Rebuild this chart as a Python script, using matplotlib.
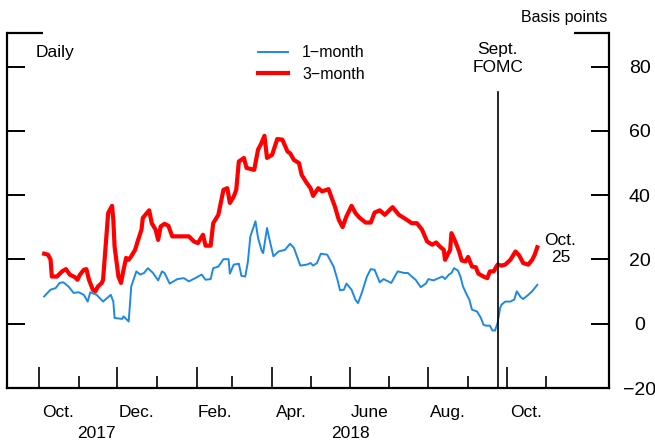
import matplotlib.pyplot as plt
import matplotlib.transforms as mtransforms
import numpy as np
import pandas as pd

plt.rcParams['font.family'] = ['Liberation Sans', 'DejaVu Sans']

start = pd.Timestamp('2017-10-01')

# days after Oct. 1, 2017 and basis points
days_3m = [4, 7, 9, 10, 14, 18, 21, 24, 28, 30, 32, 35, 37, 39, 42, 44, 46, 49, 50,
           52, 54, 57, 58, 59, 62, 64, 66, 68, 70, 72, 75, 77, 80, 81, 83, 86, 88,
           91, 93, 95, 98, 101, 104, 110, 117, 121, 124, 128, 130, 134, 136, 140,
           144, 147, 149, 152, 154, 156, 160, 162, 168, 171, 173, 176, 178, 182,
           186, 190, 194, 196, 199, 203, 205, 209, 212, 214, 218, 221, 226, 229,
           231, 234, 237, 240, 244, 247, 250, 255, 259, 262, 266, 270, 276, 281,
           283, 287, 291, 295, 299, 303, 307, 310, 313, 316, 317, 319, 321, 322,
           325, 328, 330, 333, 335, 338, 341, 343, 347, 350, 352, 355, 358, 361,
           364, 368, 372, 375, 378, 382, 385, 387, 389]
rate_3m = [21.8, 21.5, 20.0, 14.7, 14.7, 16.3, 17.0, 15.3, 14.5, 13.7, 15.3, 16.8,
           17.0, 13.7, 10.6, 10.1, 11.6, 12.7, 13.7, 24.0, 34.5, 36.7, 32.4, 24.0,
           14.7, 12.7, 16.8, 20.5, 19.9, 21.0, 23.0, 25.6, 29.3, 32.9, 33.9, 35.3,
           31.3, 29.3, 26.1, 30.3, 31.1, 30.5, 27.2, 27.2, 27.2, 25.6, 25.1, 27.7,
           24.3, 24.3, 31.3, 33.9, 41.7, 42.2, 37.6, 39.6, 41.7, 50.5, 51.6, 48.5,
           47.9, 54.2, 55.7, 58.5, 51.6, 52.6, 57.5, 57.3, 53.6, 53.1, 51.0, 50.0,
           46.4, 43.8, 42.2, 39.8, 42.2, 41.2, 41.9, 38.6, 36.5, 32.4, 30.1, 33.4,
           36.7, 34.5, 33.1, 31.5, 31.5, 34.6, 35.3, 33.9, 36.3, 33.9, 33.4, 32.4,
           31.3, 31.3, 29.3, 25.6, 24.6, 25.3, 24.0, 23.0, 19.9, 21.5, 23.0, 28.2,
           25.6, 22.5, 19.7, 19.4, 20.8, 17.8, 17.6, 15.6, 14.7, 14.2, 16.3, 16.3,
           18.4, 18.1, 18.4, 19.9, 22.5, 21.2, 18.9, 18.4, 19.9, 21.5, 23.8]

days_1m = [4, 9, 13, 16, 19, 23, 27, 31, 35, 38, 40, 45, 50, 56, 58, 59, 65, 66,
           70, 72, 76, 79, 82, 85, 89, 93, 96, 98, 102, 108, 113, 117, 122, 127,
           130, 134, 136, 140, 144, 148, 149, 152, 156, 158, 161, 163, 165, 169,
           171, 174, 175, 178, 180, 183, 187, 192, 196, 199, 200, 204, 209, 212,
           214, 217, 220, 225, 230, 233, 235, 238, 240, 244, 247, 249, 252, 256,
           259, 262, 266, 269, 275, 280, 285, 288, 291, 294, 298, 302, 304, 308,
           312, 315, 317, 320, 322, 324, 327, 329, 331, 334, 336, 338, 342, 345,
           347, 349, 352, 354, 356, 358, 360, 361, 364, 368, 371, 373, 376, 378,
           382, 385, 389]
rate_1m = [8.5, 10.6, 11.1, 12.7, 12.9, 11.6, 9.6, 9.8, 9.0, 6.9, 9.8, 9.0, 6.9,
           9.0, 6.9, 1.8, 1.5, 2.3, 0.7, 11.6, 16.3, 15.3, 15.8, 17.3, 15.8, 13.5,
           16.3, 15.8, 12.5, 13.9, 14.2, 13.2, 14.2, 15.3, 13.7, 13.9, 17.3, 17.8,
           20.1, 20.1, 15.6, 18.4, 18.7, 14.9, 14.7, 19.1, 27.2, 31.9, 26.7, 22.5,
           22.0, 29.8, 26.1, 21.0, 22.5, 23.0, 24.9, 23.6, 22.5, 18.1, 18.4, 18.9,
           18.1, 18.9, 21.8, 21.5, 17.8, 13.7, 10.4, 10.6, 12.5, 10.6, 7.5, 6.4,
           9.6, 14.7, 17.0, 16.8, 12.9, 13.9, 12.7, 16.3, 15.8, 15.8, 14.7, 13.7,
           11.4, 12.5, 13.9, 13.5, 14.2, 14.7, 13.9, 15.3, 15.8, 17.3, 16.6, 14.7,
           11.6, 9.0, 7.5, 4.4, 3.8, 1.8, -0.3, -0.6, -0.6, -2.1, -2.1, 0.2, 4.9,
           5.9, 6.9, 6.9, 7.5, 10.1, 8.3, 7.7, 9.0, 10.1, 12.1]

fomc_day = 358
yticks = [-20, 0, 20, 40, 60, 80]
ytick_labels = ['\u221220', '0', '20', '40', '60', '80']
month_labels = ['Oct.', 'Dec.', 'Feb.', 'Apr.', 'June', 'Aug.', 'Oct.']
month_label_dates = ['2017-10-16', '2017-12-16', '2018-02-15', '2018-04-16',
                     '2018-06-16', '2018-08-16', '2018-10-16']
year_labels = ['2017', '2018']
year_label_dates = ['2017-11-15', '2018-06-01']

d3 = start + pd.to_timedelta(days_3m, unit='D')
d1 = start + pd.to_timedelta(days_1m, unit='D')
fomc = start + pd.Timedelta(days=fomc_day)

fig = plt.figure(figsize=(6.55, 4.40), dpi=100)
ax = fig.add_axes([7 / 655, 1 - 388 / 440, 602 / 655, 355 / 440])

ax.plot(d1, rate_1m, color='#1e88e5', lw=1.4, label='1\u2212month')
ax.plot(d3, rate_3m, color='#ff0000', lw=3.0, label='3\u2212month',
        solid_joinstyle='round')
ax.plot([fomc, fomc], [-20, 72], color='black', lw=1.2)

ax.set_xlim(start - pd.Timedelta(days=25), start + pd.Timedelta(days=445))
ax.set_ylim(-20, 90.5)

# frame: open top with short corner pieces
ax.spines['top'].set_visible(False)
for s in ['left', 'right', 'bottom']:
    ax.spines[s].set_linewidth(1.6)
ax.plot([0, 36 / 602], [1, 1], color='black', lw=1.6, transform=ax.transAxes,
        clip_on=False, solid_capstyle='butt')
ax.plot([1 - 35 / 602, 1], [1, 1], color='black', lw=1.6, transform=ax.transAxes,
        clip_on=False, solid_capstyle='butt')

ax.set_yticks(yticks)
ax.set_yticklabels(ytick_labels)
ax.tick_params(axis='y', left=True, right=True, labelleft=False, labelright=True,
               direction='in', length=13, width=1.4, pad=22, labelsize=14)
for lab in ax.get_yticklabels():
    lab.set_horizontalalignment('center')

months = pd.date_range('2017-10-01', '2018-11-01', freq='MS')
ax.set_xticks(months[::2])
ax.set_xticks(months[1::2], minor=True)
ax.tick_params(axis='x', which='major', direction='in', length=15, width=1.2,
               labelbottom=False)
ax.tick_params(axis='x', which='minor', direction='in', length=9, width=1.2,
               labelbottom=False)

trans = mtransforms.blended_transform_factory(ax.transData, ax.transAxes)
for lab, d in zip(month_labels, month_label_dates):
    ax.text(pd.Timestamp(d), -0.068, lab, transform=trans, ha='center',
            va='center', fontsize=12.5)
for lab, d in zip(year_labels, year_label_dates):
    ax.text(pd.Timestamp(d), -0.127, lab, transform=trans, ha='center',
            va='center', fontsize=12.5)

ax.text(0.048, 0.946, 'Daily', transform=ax.transAxes, ha='left', va='center',
        fontsize=12.5)
ax.text(0.998, 1.045, 'Basis points', transform=ax.transAxes, ha='right',
        va='center', fontsize=11.5, clip_on=False)
ax.text(fomc, 0.927, 'Sept.\nFOMC', transform=trans, ha='center', va='center',
        fontsize=12.5, linespacing=1.25)
ax.text(start + pd.Timedelta(days=407), 23.3, 'Oct.\n25', ha='center',
        va='center', fontsize=12.5, linespacing=1.2)

ax.legend(loc='upper left', bbox_to_anchor=(0.417, 0.965), frameon=False,
          fontsize=11.5, handlelength=1.9, handletextpad=0.85, labelspacing=0.4,
          borderpad=0, borderaxespad=0)

fig.savefig('out.png', dpi=100)
